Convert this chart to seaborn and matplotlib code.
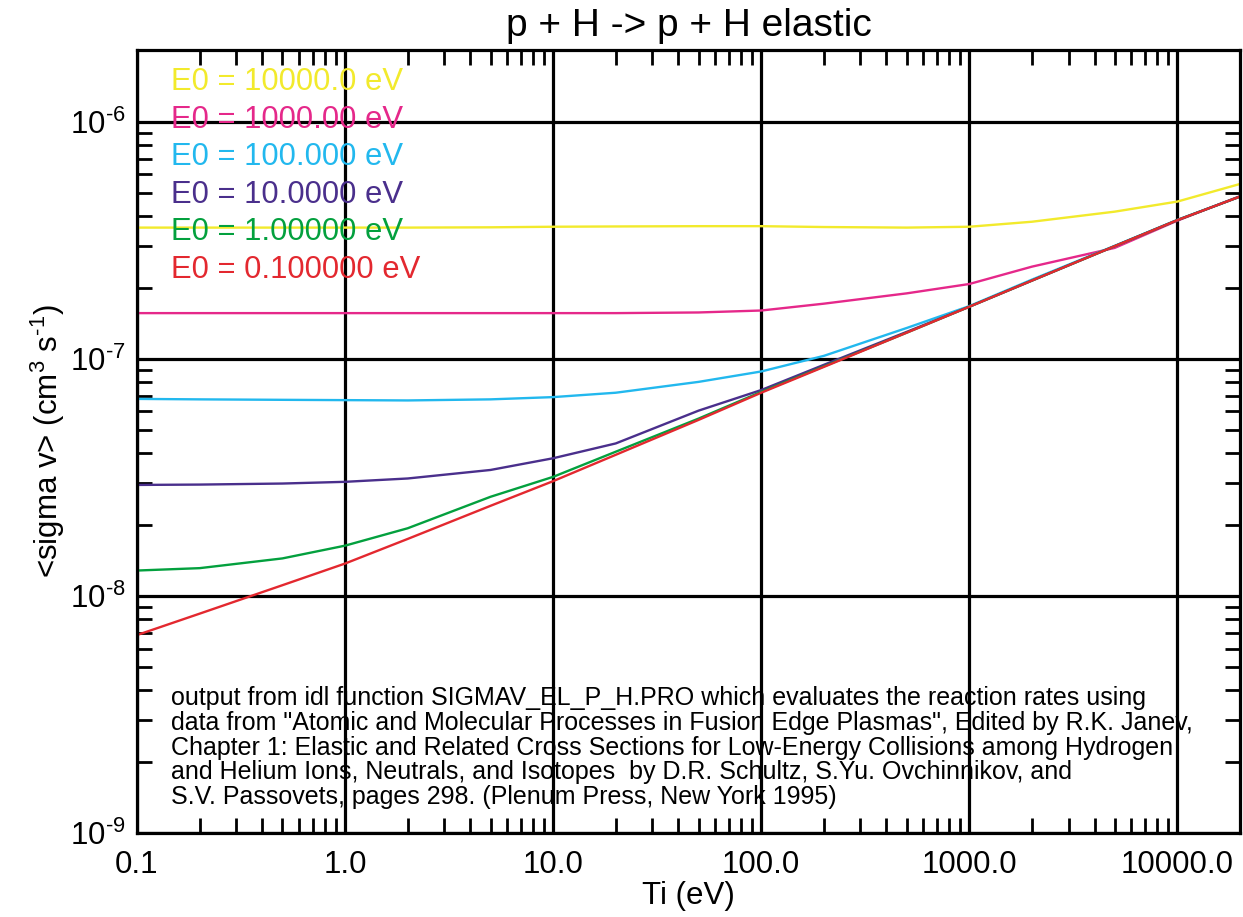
import numpy as np
import pandas as pd
import matplotlib
matplotlib.use("Agg")
import matplotlib.pyplot as plt
import seaborn as sns
from matplotlib.ticker import FixedLocator, LogLocator, NullFormatter

# Ti grid (eV)
ti = [0.1, 0.2, 0.5, 1.0, 2.0, 5.0, 10.0, 20.0, 50.0, 100.0, 200.0, 500.0,
      1000.0, 2000.0, 5000.0, 10000.0, 20000.0]

# <sigma v>, one list per E0
sv_e10000 = [3.58e-7, 3.58e-7, 3.58e-7, 3.58e-7, 3.58e-7, 3.59e-7, 3.61e-7, 3.62e-7, 3.63e-7,
             3.63e-7, 3.60e-7, 3.58e-7, 3.61e-7, 3.79e-7, 4.18e-7, 4.61e-7, 5.47e-7]
sv_e1000 = [1.56e-7, 1.56e-7, 1.56e-7, 1.56e-7, 1.56e-7, 1.56e-7, 1.56e-7, 1.56e-7, 1.57e-7,
            1.60e-7, 1.71e-7, 1.89e-7, 2.07e-7, 2.45e-7, 2.94e-7, 3.83e-7, 4.86e-7]
sv_e100 = [6.78e-8, 6.75e-8, 6.72e-8, 6.70e-8, 6.68e-8, 6.75e-8, 6.90e-8, 7.20e-8, 8.00e-8,
           8.85e-8, 1.03e-7, 1.35e-7, 1.67e-7, 2.16e-7, 3.00e-7, 3.86e-7, 4.84e-7]
sv_e10 = [2.94e-8, 2.95e-8, 2.98e-8, 3.03e-8, 3.13e-8, 3.40e-8, 3.81e-8, 4.40e-8, 6.05e-8,
          7.39e-8, 9.44e-8, 1.30e-7, 1.66e-7, 2.14e-7, 2.99e-7, 3.85e-7, 4.84e-7]
sv_e1 = [1.28e-8, 1.31e-8, 1.44e-8, 1.63e-8, 1.93e-8, 2.62e-8, 3.18e-8, 4.06e-8, 5.60e-8,
         7.26e-8, 9.30e-8, 1.29e-7, 1.66e-7, 2.14e-7, 2.99e-7, 3.85e-7, 4.84e-7]
sv_e01 = [6.84e-9, 8.42e-9, 1.11e-8, 1.37e-8, 1.74e-8, 2.40e-8, 3.05e-8, 3.94e-8, 5.53e-8,
          7.20e-8, 9.25e-8, 1.29e-7, 1.66e-7, 2.14e-7, 2.99e-7, 3.85e-7, 4.84e-7]

labels = ["E0 = 10000.0 eV", "E0 = 1000.00 eV", "E0 = 100.000 eV",
          "E0 = 10.0000 eV", "E0 = 1.00000 eV", "E0 = 0.100000 eV"]
series = [sv_e10000, sv_e1000, sv_e100, sv_e10, sv_e1, sv_e01]
colors = ["#F2EA2C", "#E5288A", "#22B8EE", "#4A2F8C", "#03A03E", "#E3282F"]

xtick_vals = [0.1, 1.0, 10.0, 100.0, 1000.0, 10000.0]
xtick_labels = ["0.1", "1.0", "10.0", "100.0", "1000.0", "10000.0"]
ytick_vals = [1e-9, 1e-8, 1e-7, 1e-6]
ytick_labels = [r"$10^{\text{-9}}$", r"$10^{\text{-8}}$", r"$10^{\text{-7}}$", r"$10^{\text{-6}}$"]

note = ("output from idl function SIGMAV_EL_P_H.PRO which evaluates the reaction rates using\n"
        "data from \"Atomic and Molecular Processes in Fusion Edge Plasmas\", Edited by R.K. Janev,\n"
        "Chapter 1: Elastic and Related Cross Sections for Low-Energy Collisions among Hydrogen\n"
        "and Helium Ions, Neutrals, and Isotopes  by D.R. Schultz, S.Yu. Ovchinnikov, and\n"
        "S.V. Passovets, pages 298. (Plenum Press, New York 1995)")

# long-form table for seaborn
df = pd.concat([pd.DataFrame({"Ti": ti, "sv": s, "E0": lab}) for s, lab in zip(series, labels)],
               ignore_index=True)

sns.set_style("white")
plt.rcParams["font.family"] = ["Liberation Sans", "DejaVu Sans"]
plt.rcParams["mathtext.fontset"] = "custom"
plt.rcParams["mathtext.rm"] = "Liberation Sans"
plt.rcParams["mathtext.it"] = "Liberation Sans:italic"
plt.rcParams["mathtext.bf"] = "Liberation Sans:bold"
for key in ["text.color", "axes.labelcolor", "xtick.color", "ytick.color"]:
    plt.rcParams[key] = "black"

fig = plt.figure(figsize=(12.43, 9.17), dpi=100)
ax = fig.add_axes([0.1102, 0.0916, 0.8874, 0.8539])

sns.lineplot(data=df, x="Ti", y="sv", hue="E0", hue_order=labels,
             palette=dict(zip(labels, colors)), linewidth=1.7, legend=False,
             sort=False, ax=ax)

ax.set_xscale("log")
ax.set_yscale("log")
ax.set_xlim(0.1, 2.0e4)
ax.set_ylim(1e-9, 2.01e-6)

# grid at decades, drawn in thick black like the IDL ticklen=1
ax.xaxis.set_major_locator(FixedLocator(xtick_vals))
ax.set_xticklabels(xtick_labels)
ax.yaxis.set_major_locator(FixedLocator(ytick_vals))
ax.set_yticklabels(ytick_labels)
ax.xaxis.set_minor_locator(LogLocator(base=10, subs=np.arange(2, 10), numticks=20))
ax.yaxis.set_minor_locator(LogLocator(base=10, subs=np.arange(2, 10), numticks=20))
ax.xaxis.set_minor_formatter(NullFormatter())
ax.yaxis.set_minor_formatter(NullFormatter())
ax.grid(which="major", color="black", linewidth=2.3)
ax.set_axisbelow(True)

ax.tick_params(which="major", length=0, labelsize=22.5, colors="black")
ax.tick_params(axis="x", which="major", pad=12)
ax.tick_params(axis="y", which="major", pad=8)
ax.tick_params(which="minor", direction="in", length=11, width=2.0,
               top=True, right=True, bottom=True, left=True, colors="black")
for sp in ax.spines.values():
    sp.set_linewidth(2.3)
    sp.set_color("black")

ax.set_title("p + H -> p + H elastic", fontsize=28, pad=10)
ax.set_xlabel("Ti (eV)", fontsize=22.5, labelpad=1)
ax.set_ylabel(r"<sigma v> (cm$^3$ s$^{\text{-1}}$)", fontsize=22.5, labelpad=2)

# labels for each curve, top left
for i, (lab, c) in enumerate(zip(labels, colors)):
    ax.text(0.031, 0.959 - i * 0.0479, lab, color=c, fontsize=22.3,
            transform=ax.transAxes, va="center", ha="left")

ax.text(0.031, 0.031, note, fontsize=18, transform=ax.transAxes,
        va="bottom", ha="left", linespacing=1.03)

fig.savefig("out.png", dpi=100)
